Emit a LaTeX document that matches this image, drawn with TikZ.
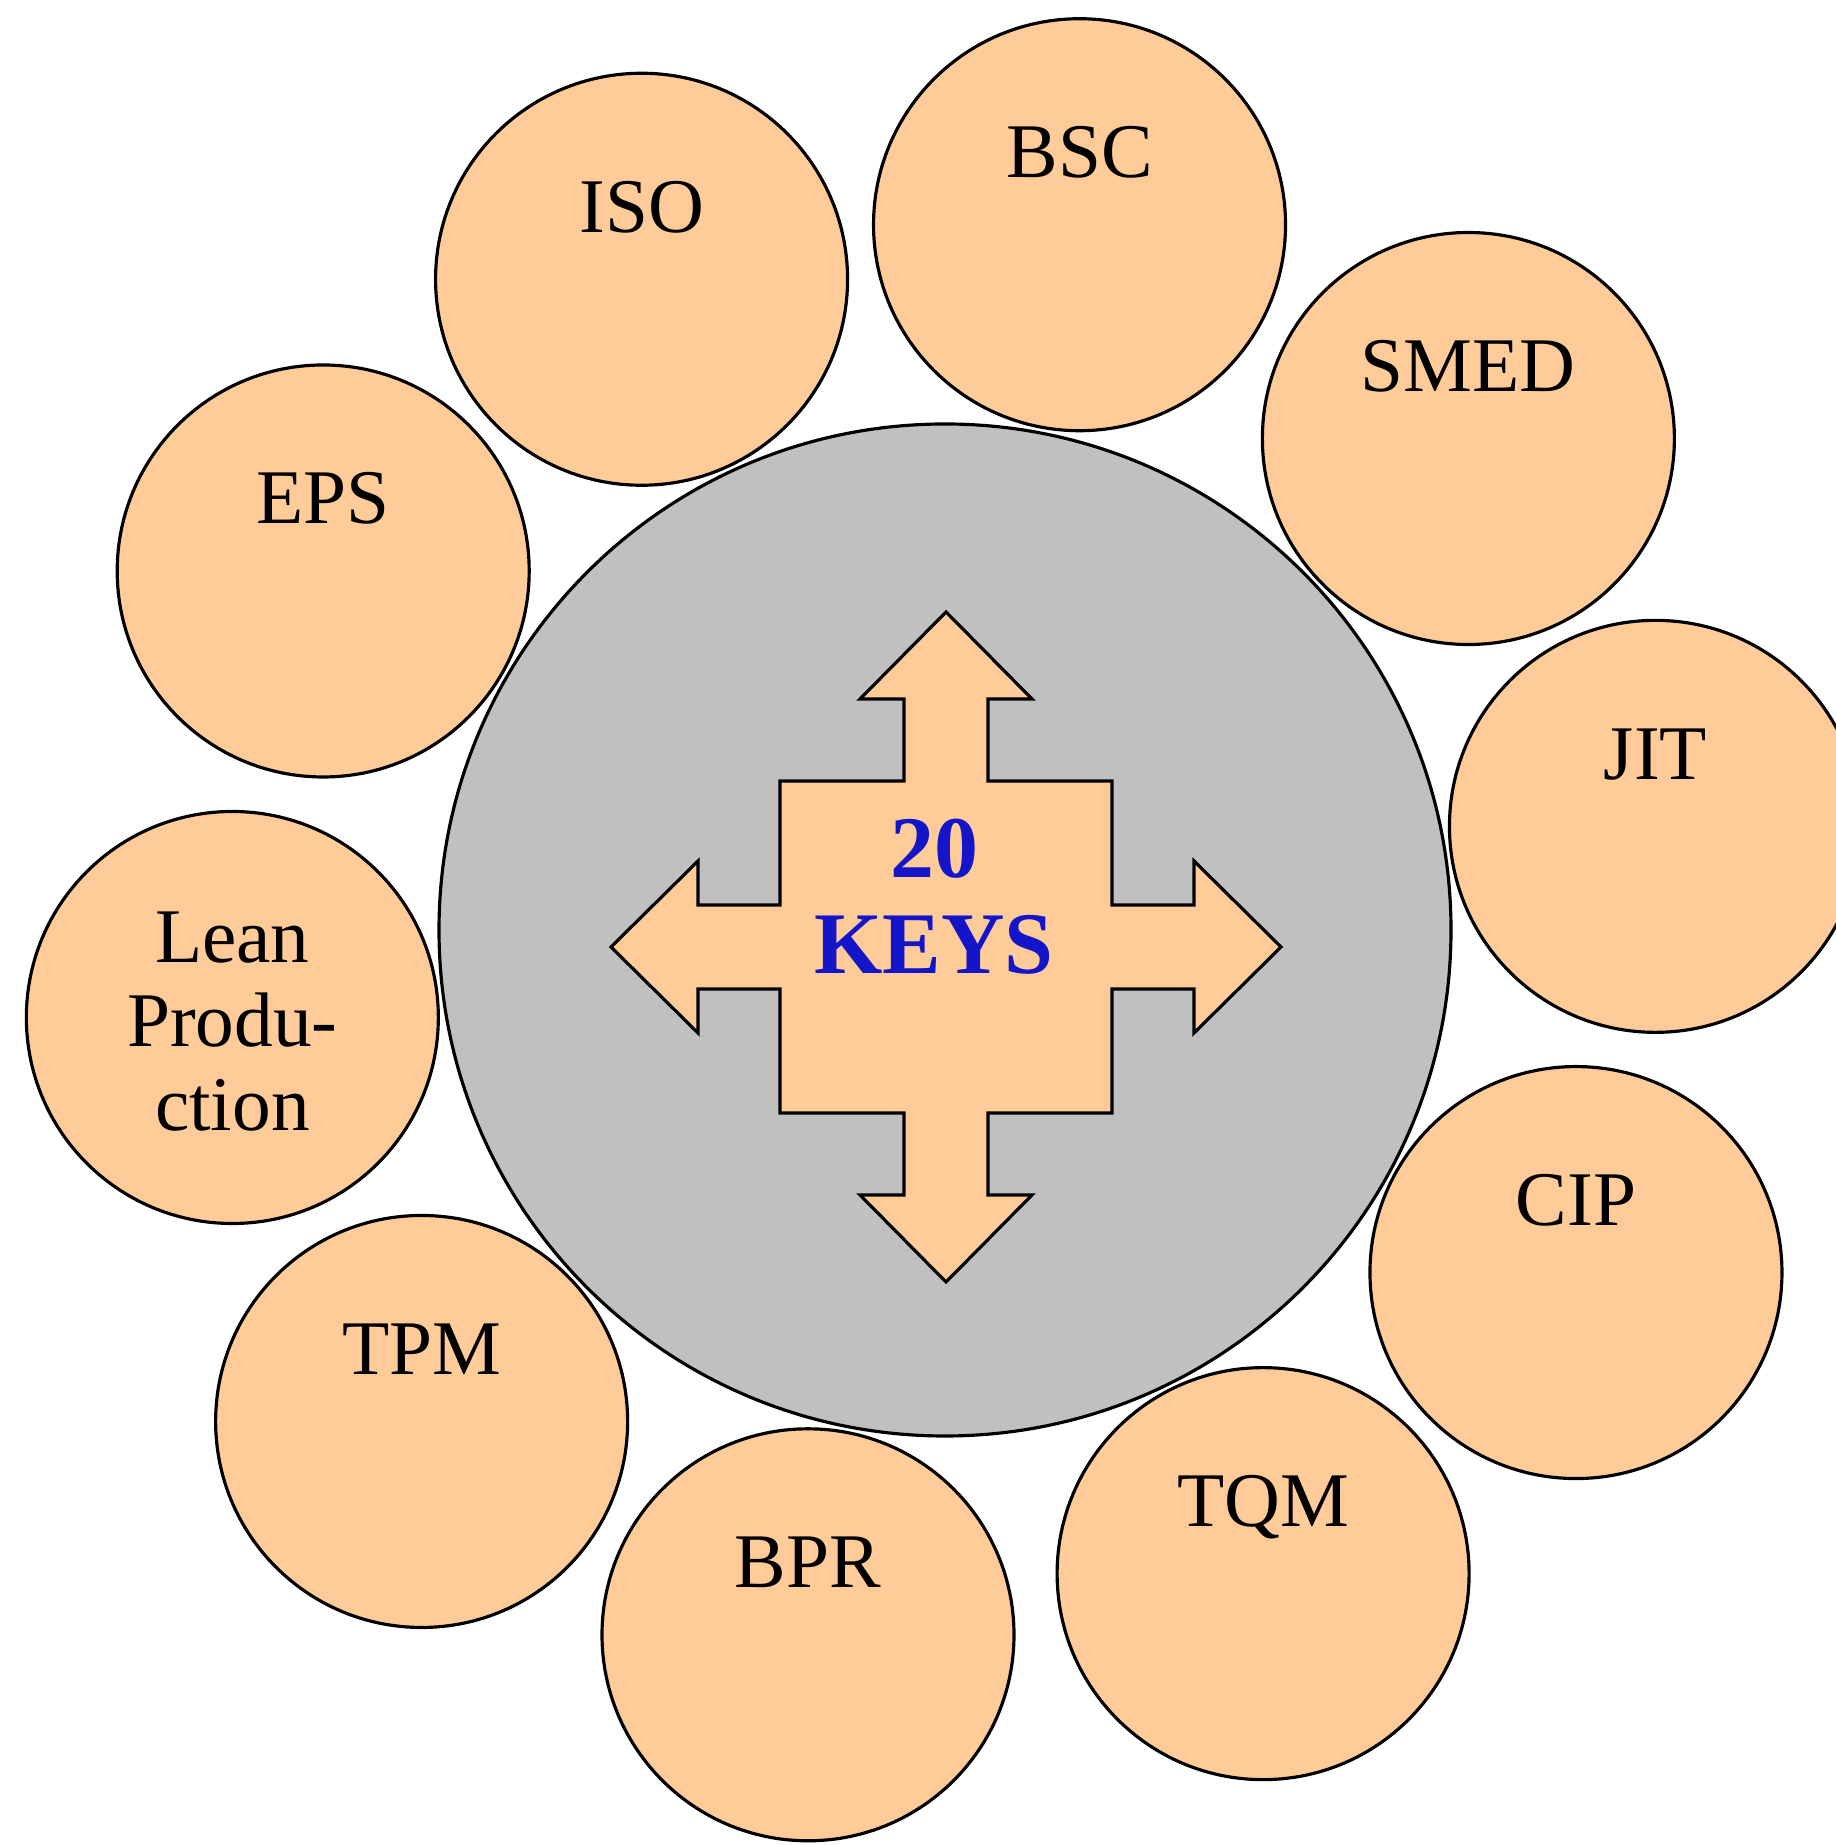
\documentclass[tikz,border=0pt]{standalone}
\usepackage{fontspec}
\setmainfont{Liberation Serif}
\usetikzlibrary{calc}
\definecolor{peach}{RGB}{255,204,153}
\definecolor{silver}{RGB}{192,192,192}
\definecolor{keyblue}{RGB}{20,20,200}
\begin{document}
\begin{tikzpicture}[line width=0.9pt,
  key/.style={circle,draw=black,fill=peach,minimum size=4.12cm,inner sep=0pt},
  tag/.style={anchor=base,font=\fontsize{22}{24}\selectfont}]
\useasboundingbox (0,0) rectangle (18.35,18.45);
% 中心圆
\node[circle,draw=black,fill=silver,minimum size=10.12cm,inner sep=0pt] (core) at (9.45,9.15) {};
% 外圈
\foreach \n/\a/\t in {iso/115/ISO, bsc/79.2/BSC, smed/43.2/SMED, jit/8.3/JIT, cip/-28.5/CIP,
                      tqm/-63.7/TQM, bpr/-101/BPR, tpm/-136.8/TPM, eps/150/EPS}
  {\node[key] (\n) at ($(core.center)+(\a:7.18)$) {};
   \node[tag] (\n-t) at ($(\n.center)+(0,0.47)$) {\t};}
\node[key] (lean) at ($(core.center)+(-173:7.18)$) {};
\node[align=center,font=\fontsize{22}{24}\selectfont] (lean-t) at ($(lean.center)+(0,-0.04)$) {Lean\\Produ-\\ction};
% 四向箭头
\filldraw[fill=peach,draw=black,shift={(9.46,8.98)}]
  (0,3.35) -- (0.86,2.48) -- (0.42,2.48) -- (0.42,1.66) -- (1.66,1.66) -- (1.66,0.42)
  -- (2.48,0.42) -- (2.48,0.86) -- (3.35,0) -- (2.48,-0.86) -- (2.48,-0.42) -- (1.66,-0.42)
  -- (1.66,-1.66) -- (0.42,-1.66) -- (0.42,-2.48) -- (0.86,-2.48) -- (0,-3.35) -- (-0.86,-2.48)
  -- (-0.42,-2.48) -- (-0.42,-1.66) -- (-1.66,-1.66) -- (-1.66,-0.42) -- (-2.48,-0.42)
  -- (-2.48,-0.86) -- (-3.35,0) -- (-2.48,0.86) -- (-2.48,0.42) -- (-1.66,0.42) -- (-1.66,1.66)
  -- (-0.42,1.66) -- (-0.42,2.48) -- (-0.86,2.48) -- cycle;
\node[align=center,text=keyblue,font=\fontsize{25}{27.3}\selectfont\bfseries] (keys) at (9.34,9.485) {20\\KEYS};
\end{tikzpicture}
\end{document}
